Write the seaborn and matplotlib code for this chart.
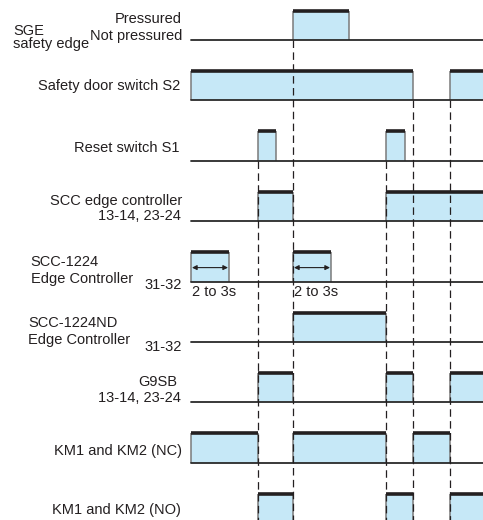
import matplotlib
matplotlib.use("Agg")
import matplotlib.pyplot as plt
import seaborn as sns
import pandas as pd

sns.set_theme(style="white")
plt.rcParams['font.family'] = ['Liberation Sans', 'DejaVu Sans']

# ---- data: ON intervals (time units) for each signal ----
signals = ["SGE", "S2", "S1", "SCC", "SCC1224", "SCC1224ND", "G9SB", "KMNC", "KMNO"]
sge_on = [(102, 158)]
s2_on = [(0, 222), (259, 300)]
s1_on = [(67, 85), (195, 214)]
scc_on = [(67, 102), (195, 300)]
scc1224_on = [(0, 38), (102, 140)]
scc1224nd_on = [(102, 195)]
g9sb_on = [(67, 102), (195, 222), (259, 300)]
kmnc_on = [(0, 67), (102, 195), (222, 259)]
kmno_on = [(67, 102), (195, 222), (259, 300)]
on_intervals = [sge_on, s2_on, s1_on, scc_on, scc1224_on, scc1224nd_on, g9sb_on, kmnc_on, kmno_on]

# event (dashed guide) times and the row below which each starts
event_times = [67, 102, 195, 222, 259]
event_start_row = [2, 0, 2, 1, 1]

T_END = 292

fig = plt.figure(figsize=(4.83, 5.20), dpi=100)
ax = fig.add_axes([0, 0, 1, 1])
ax.set_xlim(-191, T_END)
ax.set_ylim(520, 0)
ax.axis("off")

FILL = "#c6e8f7"
DARK = "#231f20"
EDGE = "#7a7a7a"

def baseline_y(i):
    return 40 + 60.4 * i

H = 29.5

for i, ivs in enumerate(on_intervals):
    yb = baseline_y(i)
    yt = yb - H
    for (a, b) in ivs:
        b2 = min(b, T_END + 5)
        ax.fill_between([a, b2], [yb, yb], [yt, yt], color=FILL, lw=0, zorder=1)
        ax.vlines([a, b], yt, yb, color=EDGE, lw=1.1, zorder=2)
        ax.hlines(yt, a, b2, color=DARK, lw=2.6, zorder=3)
    df = pd.DataFrame({"t": [0, T_END + 5], "y": [yb, yb]})
    sns.lineplot(data=df, x="t", y="y", ax=ax, color="#2a2a2a", lw=1.3, zorder=3)

for t, r in zip(event_times, event_start_row):
    ax.vlines(t, baseline_y(r), 525, color=DARK, lw=0.9, linestyles=(0, (6, 3.5)), zorder=4)

ax.set_xlabel("")
ax.set_ylabel("")

fs = 10.5
def lab(x, y, s, ha="right"):
    ax.text(x - 191, y, s, ha=ha, va="baseline", fontsize=fs, color=DARK)

# labels (x = anchor pixel, y = text baseline pixel)
lab(13, 35, "SGE", ha="left")
lab(13, 48, "safety edge", ha="left")
lab(182, 23, "Pressured")
lab(182, 40, "Not pressured")
lab(180, 90, "Safety door switch S2")
lab(179.5, 151.5, "Reset switch S1")
lab(182, 205, "SCC edge controller")
lab(181, 220, "13-14, 23-24")
lab(30.5, 266.5, "SCC-1224", ha="left")
lab(30.5, 283.5, "Edge Controller", ha="left")
lab(182, 289, "31-32")
lab(28, 327, "SCC-1224ND", ha="left")
lab(28, 344, "Edge Controller", ha="left")
lab(182, 351, "31-32")
lab(177, 386.5, "G9SB")
lab(181, 401.5, "13-14, 23-24")
lab(182, 455, "KM1 and KM2 (NC)")
lab(181, 514, "KM1 and KM2 (NO)")

# timing arrows in SCC-1224 pulses
y_arr = baseline_y(4) - 14
for (a, b) in scc1224_on:
    ax.annotate("", xy=(a + 1, y_arr), xytext=(b - 1, y_arr),
                arrowprops=dict(arrowstyle="<|-|>", color=DARK, lw=0.8,
                                mutation_scale=7, shrinkA=0, shrinkB=0), zorder=5)
    ax.text(a + 1, 296.5, "2 to 3s", ha="left", va="baseline", fontsize=fs, color=DARK)

fig.savefig("out.png", dpi=100)
